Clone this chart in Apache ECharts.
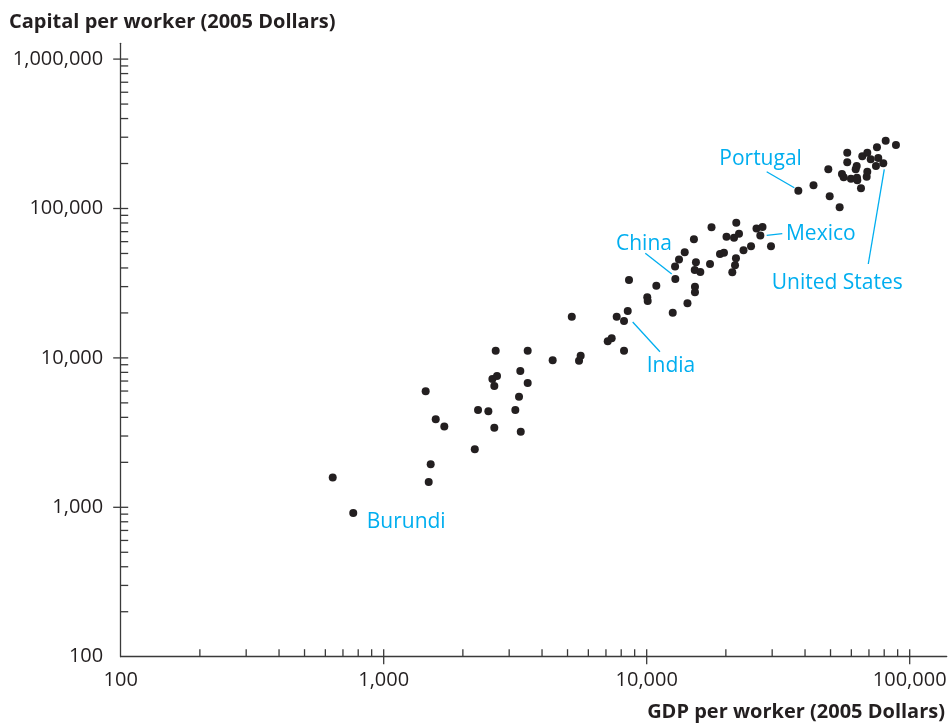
<!DOCTYPE html>
<html>
<head>
<meta charset="utf-8">
<script src="https://cdn.jsdelivr.net/npm/echarts@6/dist/echarts.min.js"></script>
<style>
  html, body { margin: 0; padding: 0; background: #ffffff; }
  #chart { width: 949px; height: 724px; }
</style>
</head>
<body>
<div id="chart"></div>
<script>
// GDP per worker and capital per worker, 2005 dollars, one entry per country
const gdpPerWorker = [
  640, 766, 1444, 1483, 1509, 1577, 1700, 2220, 2284, 2500,
  2634, 2634, 2590, 2697, 2666, 3166, 3270, 3307, 3320, 3528,
  3528, 4390, 5190, 5530, 5610, 7110, 7360, 7690, 8200, 8200,
  8470, 8565, 10050, 10090, 10880, 12560, 12850, 12820, 13270, 13950,
  14290, 15120, 15260, 15260, 15230, 15390, 15990, 17410, 17640, 19000,
  19670, 20110, 21160, 21670, 21850, 21480, 21910, 22440, 23340, 24930,
  26150, 27570, 27040, 29690, 37720, 43080, 49040, 49640, 54160, 55270,
  56100, 57890, 57890, 59800, 62330, 62880, 63040, 63210, 65290, 66030,
  68620, 69000, 69000, 71090, 74430, 75090, 75940, 79360, 81040, 88680
];
const capitalPerWorker = [
  1580, 916, 5980, 1477, 1940, 3880, 3480, 2445, 4480, 4390,
  3410, 6480, 7220, 7560, 11170, 4480, 5500, 8170, 3210, 6790,
  11170, 9640, 18870, 9580, 10340, 12910, 13530, 18870, 17660, 11170,
  20600, 33220, 25440, 24040, 30430, 20070, 33740, 40900, 45560, 50910,
  23200, 62210, 29960, 27490, 38760, 43640, 37580, 42520, 74850, 49590,
  50590, 64730, 37460, 41740, 46420, 63760, 80350, 67800, 52590, 55940,
  73480, 75160, 65950, 55940, 131540, 143200, 183000, 120850, 101860, 170200,
  162000, 236300, 203800, 158300, 183000, 192500, 160800, 154500, 136540, 223600,
  163300, 176300, 236300, 213400, 192500, 256800, 217800, 200700, 284300, 266100
];

// Callout names, where each name sits, and the leader line from the name to its country
const calloutNames = ['Portugal', 'Mexico', 'United States', 'China', 'India', 'Burundi'];
const calloutTextAt = [[18880, 221900], [33850, 69400], [29880, 32620], [7644, 59490], [10000, 9146], [862, 822]];
const calloutLineFrom = [[28590, 176300], [28590, 66160], [69590, 42520], [9879, 50130], [8847, 17390], null];
const calloutLineTo = [[36410, 137800], [32780, 67800], [80050, 183000], [12450, 36440], [11230, 11000], null];

// Axis ranges and tick values
const xRange = [100, 138270];
const yRange = [100, 1275700];
const xMajorTicks = [1000, 10000, 100000];
const yMajorTicks = [1000, 10000, 100000, 1000000];
const xMinorTicks = [200, 300, 400, 500, 600, 700, 800, 900,
  2000, 3000, 4000, 5000, 6000, 7000, 8000, 9000,
  20000, 30000, 40000, 50000, 60000, 70000, 80000, 90000];
const yMinorTicks = [200, 300, 400, 500, 600, 700, 800, 900,
  2000, 3000, 4000, 5000, 6000, 7000, 8000, 9000,
  20000, 30000, 40000, 50000, 60000, 70000, 80000, 90000,
  200000, 300000, 400000, 500000, 600000, 700000, 800000, 900000];

const INK = '#231f20';
const AXIS = '#3a3a3a';
const CYAN = '#00aeef';
const FONT = '"Open Sans", "Noto Sans", sans-serif';
const TICK_LEN = 7.5;
const CALLOUT_DY = 2;

const isPow10 = v => Math.abs(Math.log10(v) - Math.round(Math.log10(v))) < 1e-6;
const fmt = v => isPow10(v) ? Math.round(v).toLocaleString('en-US') : '';

function tickSeries(values, dir, major) {
  return {
    type: 'custom',
    silent: true,
    clip: false,
    z: 5,
    data: values.map(v => dir === 'x' ? [v, yRange[0]] : [xRange[0], v]),
    renderItem: function (params, api) {
      const p = api.coord([api.value(0), api.value(1)]);
      let shape;
      if (dir === 'x') {
        shape = { x1: p[0], y1: p[1] + (major ? TICK_LEN : 0), x2: p[0], y2: p[1] - TICK_LEN };
      } else {
        shape = { x1: p[0] - (major ? TICK_LEN : 0), y1: p[1], x2: p[0] + TICK_LEN, y2: p[1] };
      }
      return { type: 'line', shape: shape, style: { stroke: AXIS, lineWidth: 1.3 } };
    }
  };
}

const chart = echarts.init(document.getElementById('chart'), null, { renderer: 'canvas' });

chart.setOption({
  animation: false,
  backgroundColor: '#ffffff',
  grid: { left: 120.7, right: 2.3, top: 43.3, bottom: 67.3, outerBoundsMode: 'none', containLabel: false },
  xAxis: {
    type: 'log',
    logBase: 10,
    min: xRange[0],
    max: xRange[1],
    axisLine: { show: true, lineStyle: { color: AXIS, width: 1.3 } },
    axisTick: { show: false },
    minorTick: { show: false },
    splitLine: { show: false },
    axisLabel: {
      margin: 13.5,
      showMaxLabel: false,
      color: INK,
      fontFamily: FONT,
      fontSize: 20,
      formatter: fmt
    }
  },
  yAxis: {
    type: 'log',
    logBase: 10,
    min: yRange[0],
    max: yRange[1],
    axisLine: { show: true, lineStyle: { color: AXIS, width: 1.3 } },
    axisTick: { show: false },
    minorTick: { show: false },
    splitLine: { show: false },
    axisLabel: {
      margin: 17.5,
      showMaxLabel: false,
      color: INK,
      fontFamily: FONT,
      fontSize: 20,
      formatter: fmt
    }
  },
  graphic: [
    {
      type: 'text', left: 9, top: 12,
      style: { text: 'Capital per worker (2005 Dollars)', fill: INK, font: 'bold 20px ' + FONT }
    },
    {
      type: 'text', right: 4, top: 702,
      style: { text: 'GDP per worker (2005 Dollars)', fill: INK, font: 'bold 20px ' + FONT }
    }
  ],
  series: [
    tickSeries(xMinorTicks, 'x', false),
    tickSeries(xMajorTicks, 'x', true),
    tickSeries(yMinorTicks, 'y', false),
    tickSeries(yMajorTicks, 'y', true),
    {
      type: 'scatter',
      symbol: 'circle',
      symbolSize: 8,
      itemStyle: { color: INK, opacity: 1 },
      z: 3,
      data: gdpPerWorker.map((g, i) => [g, capitalPerWorker[i]])
    },
    {
      type: 'custom',
      silent: true,
      clip: false,
      z: 4,
      data: calloutNames.map((name, i) => [calloutTextAt[i][0], calloutTextAt[i][1], i]),
      renderItem: function (params, api) {
        const i = api.value(2);
        const at = api.coord([api.value(0), api.value(1)]);
        const children = [{
          type: 'text',
          x: at[0], y: at[1] + CALLOUT_DY,
          style: {
            text: calloutNames[i], fill: CYAN, font: '21px ' + FONT,
            textAlign: 'left', textVerticalAlign: 'middle'
          }
        }];
        if (calloutLineFrom[i]) {
          const a = api.coord(calloutLineFrom[i]);
          const b = api.coord(calloutLineTo[i]);
          children.push({
            type: 'line',
            shape: { x1: a[0], y1: a[1], x2: b[0], y2: b[1] },
            style: { stroke: CYAN, lineWidth: 1.3 }
          });
        }
        return { type: 'group', children: children };
      }
    }
  ]
});
</script>
</body>
</html>
